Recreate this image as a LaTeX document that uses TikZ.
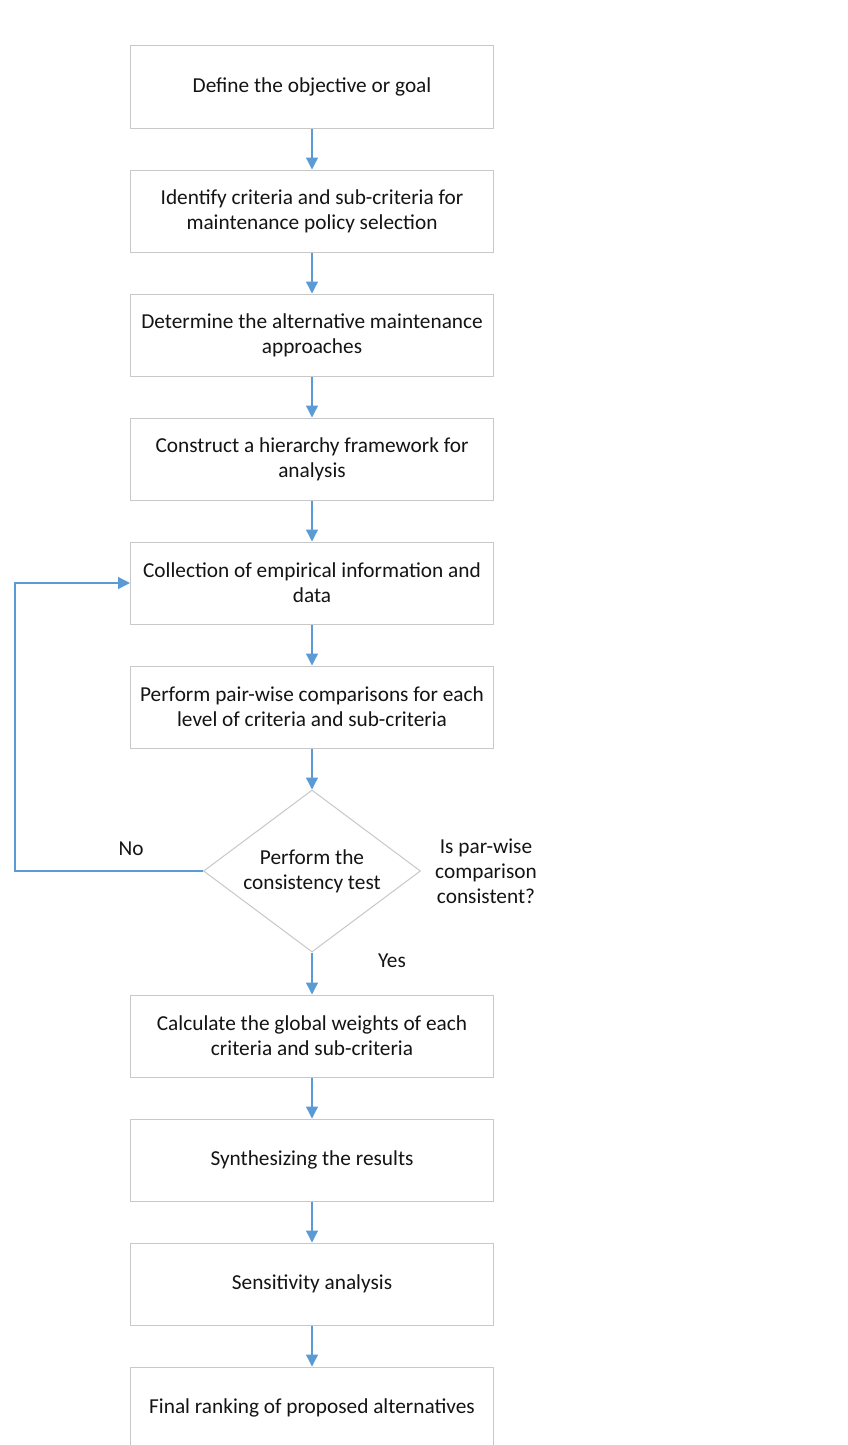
\documentclass[tikz,border=0pt]{standalone}
\usepackage{fontspec}
\setmainfont{Carlito}
\usetikzlibrary{arrows.meta,shapes.geometric}
\definecolor{arrowblue}{RGB}{91,155,213}
\definecolor{boxgray}{RGB}{200,200,200}
\definecolor{txt}{RGB}{20,20,20}
\tikzset{
  stepbox/.style={draw=boxgray, line width=1pt, fill=white, rectangle, minimum width=363pt, minimum height=82pt, inner sep=0pt, align=center, text=txt, font=\fontsize{21.3}{25}\selectfont},
  decision/.style={draw=boxgray, line width=1pt, fill=white, diamond, minimum width=217pt, minimum height=162pt, inner sep=0pt},
  lbl/.style={text=txt, align=center, inner sep=0pt, font=\fontsize{21.3}{25}\selectfont},
  flow/.style={draw=arrowblue, line width=1.3pt, -{Triangle[width=12pt,length=12pt]}},
}
\begin{document}
\begin{tikzpicture}[x=1pt,y=-1pt]
\useasboundingbox (0,0) rectangle (848,1445);
\begin{scope}
\clip (0,0) rectangle (848,1445);
\node[stepbox] (b1) at (312,87) {Define the objective or goal};
\node[stepbox] (b2) at (312,211) {Identify criteria and sub-criteria for\\maintenance policy selection};
\node[stepbox] (b3) at (312,335) {Determine the alternative maintenance\\approaches};
\node[stepbox] (b4) at (312,459) {Construct a hierarchy framework for\\analysis};
\node[stepbox] (b5) at (312,583) {Collection of empirical information and\\data};
\node[stepbox] (b6) at (312,707) {Perform pair-wise comparisons for each\\level of criteria and sub-criteria};
\node[decision] (d) at (312,871) {};
\node[lbl] (dt) at (312,871) {Perform the\\consistency test};
\node[stepbox] (b7) at (312,1036) {Calculate the global weights of each\\criteria and sub-criteria};
\node[stepbox] (b8) at (312,1160) {Synthesizing the results};
\node[stepbox] (b9) at (312,1284) {Sensitivity analysis};
\node[stepbox] (b10) at (312,1408) {Final ranking of proposed alternatives};
\end{scope}
\node[lbl] (no) at (131,849) {No};
\node[lbl] (yes) at (392,961) {Yes};
\node[lbl] (q) at (486,871) {Is par-wise\\comparison\\consistent?};
\coordinate (c1) at (15,871);
\coordinate (c2) at (15,583);
\draw[flow] (b1) -- (b2);
\draw[flow] (b2) -- (b3);
\draw[flow] (b3) -- (b4);
\draw[flow] (b4) -- (b5);
\draw[flow] (b5) -- (b6);
\draw[flow] (b6) -- (d);
\draw[flow] (d) -- (b7);
\draw[flow] (b7) -- (b8);
\draw[flow] (b8) -- (b9);
\draw[flow] (b9.south) -- (b10.north);
\draw[flow] (d.west) -- (c1) -- (c2) -- (b5.west);
\end{tikzpicture}
\end{document}
